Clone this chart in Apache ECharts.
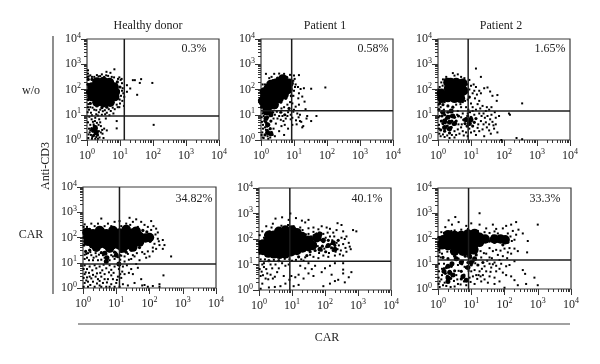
<!DOCTYPE html>
<html><head><meta charset="utf-8">
<style>html,body{margin:0;padding:0;background:#fff}#c{width:600px;height:364px}</style>
<script src="https://cdn.jsdelivr.net/npm/echarts@6/dist/echarts.min.js"></script></head>
<body><div id="c"></div>
<script>
// Event positions as log10 decades [CAR, Anti-CD3]
const panelNames=['Healthy donor','Patient 1','Patient 2'];
const rowNames=['w/o','CAR'];
const percents=['0.3%','0.58%','1.65%','34.82%','40.1%','33.3%'];
const gateCAR=[13.5,8.5,8.2,12.5,8.6,8.3];
const gateCD3=[9,14.5,14,9,13.5,14];
const tickLabels=[1,10,100,1000,10000];

const hdWoDense=[[.3,1.5],[.5,1.48],[.7,1.5],[.15,1.72],[.32,1.72],[.5,1.72],[.68,1.72],[.84,1.72],[.12,1.9],[.3,1.9],[.5,1.9],[.68,1.9],[.86,1.9],[.15,2.1],[.32,2.1],[.5,2.1],[.68,2.1],[.82,2.1],[.3,2.3],[.5,2.32],[.68,2.28]];
const hdWoClump=[[.2,.4],[.28,.3],[.25,.5]];
const hdWoMid=[[.02,1.9],[.03,2.2],[.04,1.6],[.95,1.95],[1.0,2.1],[.93,1.65],[.45,1.28],[.6,1.3],[.3,1.35],[.75,1.4],[.18,.35],[.28,.45],[.25,.25],[.22,.55],[.32,.2],[.14,.45],[.2,.18],[.3,.33],[.04,2.4],[.15,2.4],[.92,2.3],[.1,1.45]];
const hdWoDots=[[1.39,2.37],[1.45,2.37],[1.64,2.41],[1.6,2.26],[1.98,2.26],[1.21,2.17],[1.31,2.04],[1.21,1.91],[1.52,1.79],[1.13,1.71],[2.02,.6],[.59,2.7],[.83,2.8],[.71,2.66],[.3,2.57],[.03,2.76],[.03,2.63],[.05,2.52],[.15,2.5],[.22,2.5],[.4,2.53],[.52,2.5],[.64,2.54],[.82,2.48],[.94,2.42],[1.02,2.38],[1.06,2.25],[1.08,2.05],[1.1,1.85],[1.07,1.55],[1.0,1.45],[1.12,1.35],[.93,1.3],[.84,1.22],[.72,1.15],[.6,1.08],[.48,1.14],[.36,1.1],[.22,1.2],[.1,1.3],[.04,1.42],[.02,1.1],[.12,1.08],[.28,1.02],[.55,1.02],[.07,.92],[.25,.88],[.37,.82],[.57,.85],[.9,.75],[.9,.46],[.03,.7],[.1,.6],[.18,.72],[.3,.68],[.42,.55],[.52,.45],[.6,.38],[.06,.45],[.12,.2],[.15,.05],[.25,.05],[.38,.1],[.47,.25],[.5,.08],[.04,.08],[.08,.3],[.36,.35],[.4,.7],[.17,1.28],[.28,1.18],[.4,1.2],[.54,1.18],[.66,1.22],[.78,1.28],[.9,1.4],[.98,1.3],[.03,1.3],[.06,1.2],[.15,.98],[.33,.97],[.45,1.0],[.68,.98],[.8,1.05],[.14,.82],[.2,.62],[.24,.75],[.35,.6],[.46,.4],[.1,.38],[.16,.12],[.28,.12],[.33,.05],[.42,.3],[.05,.22],[1.05,2.42],[.98,2.48],[.75,2.5],[.58,2.56],[.45,2.6],[.35,2.52],[.1,2.56],[.02,2.5],[1.03,1.75],[1.06,1.95],[.99,1.6]];

const p1WoDense=[[.18,1.15],[.12,1.4],[.28,1.38],[.12,1.65],[.28,1.62],[.44,1.6],[.25,1.85],[.42,1.85],[.58,1.85],[.35,2.05],[.52,2.05],[.68,2.05],[.82,2.0],[.45,2.25],[.62,2.28],[.78,2.25],[.66,2.42],[.1,1.9],[.22,2.05],[.05,1.55],[.3,2.2],[.55,1.65],[.7,1.8],[.85,2.25],[.4,1.4]];
const p1WoClump=[[.2,.3],[.3,.25],[.2,.6],[.15,.85],[.3,1.0]];
const p1WoMid=[[.02,1.3],[.02,1.75],[.05,2.0],[.15,2.0],[.22,2.18],[.36,2.35],[.5,2.45],[.88,2.3],[.92,1.75],[.75,1.65],[.6,1.5],[.45,1.3],[.35,1.1],[.2,.9],[.3,.75],[.18,.55],[.25,.25],[.12,.2],[.6,1.1],[.72,1.0],[.85,1.25],[.78,2.48],[.9,2.1],[.15,.7],[.28,.45]];
const p1WoDots=[[1.15,2.57],[1.02,2.42],[.15,2.62],[.4,2.62],[.55,2.63],[.7,2.62],[.88,2.58],[1.0,2.55],[1.05,2.2],[1.12,2.1],[1.2,2.02],[1.3,2.05],[1.52,2.03],[1.95,2.08],[1.15,1.85],[1.13,1.65],[1.25,1.72],[1.32,1.52],[1.15,1.4],[1.05,1.32],[1.0,1.2],[1.1,1.05],[1.18,1.0],[1.35,1.22],[1.4,.95],[1.38,.85],[1.68,.95],[1.52,.75],[1.22,.72],[1.08,.62],[1.28,.55],[1.18,.75],[1.25,.5],[.95,.6],[.8,.95],[.68,.75],[.62,.55],[.72,.6],[.5,.85],[.45,.65],[.38,.45],[.08,.95],[.03,.72],[.06,.45],[.1,.75],[.05,.1],[.02,.2],[.35,.2],[.42,.15],[.7,.2],[.28,.1],[.08,.08],[.55,.35],[.82,.45],[.9,.82],[.95,1.45],[.98,1.75],[1.0,1.95],[1.03,2.1],[.05,1.05],[.1,1.1],[.02,.9],[.06,.6],[.12,.5],[.2,.4],[.25,.6],[.3,.95],[.38,.85],[.42,1.0],[.48,1.12],[.55,.95],[.6,.8],[.65,.95],[.75,.85],[.82,1.1],[.9,1.0],[.95,.88],[.98,1.12],[.8,1.4],[.88,1.5],[.62,1.25],[.7,1.3],[.2,.15],[.32,.32],[.18,.28],[.15,.4],[.22,.05],[.04,.3],[.98,2.35],[.32,2.5],[.25,2.45],[.12,2.2],[.05,2.2],[1.06,.78],[1.14,.9]];

const p2WoDense=[[.5,1.65],[.32,1.85],[.5,1.85],[.68,1.85],[.32,2.05],[.5,2.05],[.68,2.05],[.38,2.28],[.55,2.28],[.7,2.22],[.12,1.65],[.1,1.85],[.75,2.25],[.78,1.95],[.3,2.28],[.3,1.68],[.68,1.65]];
const p2WoClump=[[.3,.9],[.45,.95],[.2,.75],[.35,.7],[.5,.65],[.2,.5],[.35,.45],[.85,.8],[1.0,.8],[.95,.65],[.4,1.15],[.15,1.1]];
const p2WoMid=[[.05,1.45],[.15,1.4],[.03,1.2],[.3,1.35],[.45,1.3],[.85,1.9],[.95,1.7],[.3,1.1],[.38,.95],[.5,.9],[.42,.75],[.25,.85],[.15,.65],[.28,.55],[.4,.5],[.12,.95],[.62,.95],[.85,.85],[.95,.75],[1.0,.9],[1.1,.7],[1.05,.55],[.82,.65],[.2,.35],[.35,.28],[.08,.4],[.9,.95],[.78,.8],[.2,1.0],[.33,.7],[.47,.62],[.1,.75],[.22,.68],[.55,.75],[1.15,.85],[.88,.55]];
const p2WoDots=[[1.15,2.83],[1.3,2.5],[.45,2.65],[.6,2.6],[.25,2.5],[.15,2.4],[.8,2.45],[.95,2.38],[1.0,2.15],[1.08,2.2],[1.15,2.1],[1.25,1.95],[1.3,1.85],[1.4,2.05],[1.5,2.08],[1.58,1.92],[1.65,1.75],[1.78,1.55],[1.8,1.78],[1.25,1.55],[1.12,1.65],[1.2,1.42],[1.35,1.35],[1.28,1.25],[1.45,1.15],[1.55,1.2],[1.38,1.05],[1.5,.95],[1.62,1.0],[1.72,1.1],[1.75,.88],[1.85,.95],[1.3,.75],[1.45,.7],[1.55,.62],[1.65,.72],[1.48,.5],[1.35,.42],[1.25,.35],[1.55,.38],[1.7,.45],[1.8,.3],[1.6,.25],[1.4,.15],[1.15,.2],[1.0,.3],[.9,.15],[.75,.35],[.7,.5],[.65,.25],[.55,.2],[.5,.1],[.35,.08],[.2,.12],[.08,.15],[2.15,1.05],[2.18,1.0],[2.55,1.45],[2.38,.08],[2.55,.03],[1.92,.0],[.7,1.3],[.85,1.3],[.6,1.15],[1.05,1.15],[1.15,1.2],[.02,.9],[.03,.6],[.75,1.05],[.9,1.05],[.02,1.7],[.02,2.0],[.9,1.6],[.82,1.55],[.75,1.5],[1.0,1.45],[.92,1.2],[.68,1.42],[.55,1.4],[.2,1.5],[.08,1.3],[.18,1.2],[1.25,1.05],[1.32,.95],[1.22,.62],[1.38,.62],[1.42,.88],[1.58,.82],[1.68,.58],[1.75,.62],[1.2,.48],[1.1,.35],[.95,.45],[.85,.3],[.78,.18],[.6,.42],[.62,.62],[.5,.35],[.42,.2],[.28,.18],[.15,.22],[.04,.25],[.03,.45],[.05,.95],[.1,1.1],[.58,1.0],[.7,.9],[.72,.62],[.3,.42],[1.48,1.3],[1.62,1.3],[1.1,1.0],[1.05,1.3],[.97,1.1],[.42,1.15],[.02,1.4],[.14,2.15],[.1,2.28],[.05,2.1],[.22,2.4],[.5,2.55],[.7,2.5],[.88,2.2],[.95,2.0],[1.05,1.85],[1.18,1.8],[1.1,1.95]];

const hdCarDense=[[.15,1.85],[.15,2.05],[.3,1.75],[.3,1.95],[.3,2.15],[.5,1.75],[.5,1.95],[.5,2.15],[.7,1.72],[.7,1.95],[.7,2.15],[.9,1.72],[.9,1.95],[.9,2.15],[1.1,1.7],[1.1,1.95],[1.1,2.18],[1.3,1.7],[1.3,1.95],[1.3,2.2],[1.5,1.75],[1.5,1.95],[1.5,2.18],[1.7,1.82],[1.7,2.05],[1.88,1.98],[.5,2.28],[.9,2.28],[1.3,2.32],[1.6,2.25],[1.5,1.62],[1.2,1.58],[.8,1.58],[.4,1.62],[2.0,2.0],[.12,2.2]];
const hdCarClump=[[.7,1.05],[.72,1.2],[1.08,.95],[.65,1.38],[1.0,1.3]];
const hdCarMid=[[.03,1.7],[.03,2.0],[.04,2.3],[.2,2.32],[.6,2.32],[.95,2.33],[2.0,2.1],[2.02,1.85],[.2,1.5],[.4,1.5],[.8,1.48],[1.15,1.45],[1.45,1.5],[1.7,1.6],[.7,1.05],[.72,1.2],[1.08,.95],[1.3,2.38],[1.55,2.35],[1.8,2.28],[1.92,2.22],[.08,1.45],[.55,1.4],[.95,1.42],[1.3,1.42]];
const hdCarDots=[[2.65,1.25],[2.42,.5],[2.3,.15],[2.1,.08],[2.4,1.9],[2.45,1.7],[2.4,1.55],[2.3,1.7],[2.2,1.55],[2.1,1.45],[2.2,2.35],[2.12,2.45],[2.05,2.65],[2.25,2.2],[1.85,2.5],[1.75,2.62],[1.6,2.72],[1.5,2.62],[1.4,2.78],[1.3,2.55],[1.1,2.65],[.95,2.62],[.55,2.75],[.45,2.55],[.25,2.55],[.05,2.52],[.75,2.55],[1.95,1.45],[1.85,1.35],[2.0,1.25],[1.7,1.1],[1.9,1.2],[1.6,.95],[1.65,.8],[1.55,1.25],[1.45,1.15],[1.35,1.35],[1.25,1.25],[1.12,1.3],[1.0,1.4],[.85,1.3],[.6,1.3],[.4,1.25],[.25,1.3],[.1,1.35],[.05,1.15],[.18,1.1],[.45,1.1],[.05,.9],[.2,.85],[.35,.9],[.5,.85],[.62,.92],[.8,.9],[1.2,.85],[1.32,.9],[1.45,.75],[1.5,.55],[1.38,.6],[1.25,.55],[1.15,.4],[1.05,.45],[.85,.5],[.75,.35],[.55,.45],[.45,.35],[.2,.45],[.05,.55],[.1,.3],[.3,.25],[.6,.2],[.85,.15],[1.0,.2],[1.2,.15],[1.35,.1],[1.75,.35],[1.85,.12],[1.95,.05],[1.78,.1],[.02,.05],[.15,.05],[.35,.05],[.5,.1],[.7,.05],[.95,.05],[1.1,.05],[1.55,.2],[2.3,.05],[.12,.75],[.28,.7],[.4,.78],[.58,.7],[.7,.78],[.85,.72],[.95,.85],[1.08,.75],[1.18,.65],[.08,.62],[.18,.6],[.3,.52],[.42,.58],[.52,.6],[.65,.55],[.78,.62],[.92,.6],[1.12,.55],[.12,.42],[.25,.38],[.38,.45],[.5,.28],[.65,.35],[.72,.22],[.9,.35],[1.02,.32],[.15,.25],[.22,.12],[.42,.18],[.55,.05],[.8,.05],[.05,.2],[.02,.4],[.02,.75],[.3,1.1],[.55,1.12],[.65,1.2],[.8,1.1],[.95,1.15],[1.12,1.12],[1.25,1.05],[1.38,1.12],[1.5,1.3],[1.62,1.38],[1.78,1.42],[1.15,1.28],[.9,1.25],[.7,1.35],[.48,1.32],[.32,1.2],[.12,1.2],[.05,1.32],[.15,1.38],[.22,1.42],[.38,1.38],[1.05,1.22],[2.15,1.75],[2.25,1.95],[2.05,2.3],[2.18,2.12],[2.1,1.6],[2.28,1.85],[1.95,2.42],[1.65,2.42],[1.42,2.5],[1.15,2.45],[.85,2.45],[.65,2.45],[.35,2.45],[.12,2.42],[.02,2.42]];

const p1CarDense=[[.12,1.55],[.12,1.8],[.28,1.45],[.28,1.7],[.28,1.95],[.45,1.42],[.45,1.68],[.45,1.92],[.45,2.15],[.62,1.4],[.62,1.65],[.62,1.9],[.62,2.15],[.8,1.42],[.8,1.68],[.8,1.92],[.8,2.2],[.98,1.5],[.98,1.75],[.98,2.0],[.98,2.25],[1.15,1.55],[1.15,1.8],[1.15,2.05],[1.32,1.65],[1.32,1.9],[1.5,1.7],[.6,2.3],[.8,2.35],[1.0,2.35],[1.15,2.25],[.3,2.15],[1.3,2.1],[1.5,1.95],[1.62,1.75],[1.75,2.05]];
const p1CarClump=[[1.7,2.1],[1.85,2.2],[1.95,1.95],[2.1,1.75],[2.25,1.85],[2.3,1.6],[1.85,1.6]];
const p1CarMid=[[.03,1.65],[.03,1.9],[.2,2.15],[.32,2.28],[.55,2.38],[1.12,2.28],[1.6,2.0],[1.7,1.8],[1.75,2.2],[1.85,2.1],[1.85,1.6],[1.95,1.9],[2.05,1.7],[2.1,1.95],[2.2,1.65],[2.3,1.75],[2.25,1.55],[2.4,1.95],[1.45,1.35],[1.2,1.3],[.3,1.15],[.6,1.15],[1.7,1.55],[1.55,1.5],[1.92,1.72],[2.02,1.5]];
const p1CarDots=[[2.95,2.3],[2.85,2.35],[2.72,1.85],[2.75,1.7],[2.78,1.6],[2.65,2.1],[2.6,2.0],[2.55,2.3],[2.5,2.55],[2.38,2.62],[2.35,2.35],[2.25,2.25],[2.15,2.4],[2.05,2.45],[1.9,2.5],[1.8,2.38],[1.65,2.45],[1.5,2.42],[1.4,2.65],[1.5,2.75],[1.3,2.72],[1.12,2.82],[.95,3.0],[.9,2.75],[.7,2.85],[.5,2.8],[.42,2.6],[.22,2.5],[.1,2.3],[.02,2.15],[2.45,1.4],[2.55,1.35],[2.3,1.35],[2.1,1.3],[1.95,1.35],[1.8,1.25],[1.65,1.3],[2.55,1.05],[2.55,.8],[2.55,.65],[2.8,.7],[2.72,.5],[2.15,.95],[2.0,.85],[2.2,.6],[1.9,.7],[2.4,.4],[2.3,.35],[2.15,.25],[1.95,.15],[1.7,.95],[1.65,.55],[1.5,.65],[1.4,.85],[1.2,.6],[1.1,.5],[1.35,.45],[1.05,.15],[1.2,.2],[.98,.55],[.8,.95],[.75,.55],[.55,.7],[.4,.85],[.25,.65],[.15,.9],[.05,.55],[.1,.25],[.3,.1],[.65,.15],[.8,.25],[.9,1.0],[.42,.45],[.2,.45],[.35,1.0],[.5,1.0],[.15,1.05],[.05,1.2],[.7,1.05],[1.0,1.15],[.92,.4],[2.6,.3],[2.3,1.05],[1.35,1.15],[1.5,1.05],[1.5,2.2],[1.58,2.1],[1.65,2.28],[1.72,2.05],[1.82,2.25],[1.88,1.95],[1.95,2.2],[2.02,2.05],[2.08,2.25],[2.15,2.1],[2.22,1.95],[2.28,2.1],[2.35,1.85],[2.42,1.75],[2.48,1.55],[2.5,2.05],[2.55,1.8],[2.62,1.65],[2.65,1.5],[1.58,1.85],[1.65,1.65],[1.78,1.72],[1.82,1.45],[1.9,1.55],[1.98,1.62],[2.12,1.45],[2.18,1.8],[2.32,1.5],[2.38,1.6],[1.42,2.18],[1.32,2.35],[1.25,2.45],[1.05,2.5],[.88,2.55],[.68,2.52],[.38,2.45],[.15,2.05],[1.55,1.38],[1.4,1.28],[1.28,1.2],[1.12,1.18],[.92,1.2],[.78,1.22],[.45,1.18],[.18,1.2],[.02,1.42],[.08,.72],[.12,.58],[.22,.82],[.28,.42],[.35,.6],[.48,.52],[.1,1.0],[.02,.82],[.6,.85],[.05,.05],[.48,.12],[1.6,.82],[1.25,.95]];

const p2CarDense=[[.12,1.75],[.3,1.72],[.3,1.95],[.5,1.7],[.5,1.92],[.5,2.12],[.7,1.7],[.7,1.92],[.7,2.12],[.9,1.72],[.9,1.95],[.9,2.18],[1.08,1.75],[1.08,1.98],[1.25,1.85],[1.25,2.05],[1.42,1.98],[.3,2.15],[.15,1.95],[1.1,2.2],[.5,1.5],[.75,1.5],[.9,1.5],[1.7,1.98],[1.88,1.98],[2.02,1.95],[1.08,1.55]];
const p2CarClump=[[.35,.65],[.3,.45],[.45,.55],[.3,.9],[.42,1.0],[.75,.5],[.85,.35],[.9,.85],[1.0,1.05],[.95,1.3],[.55,1.2],[.3,.3],[.18,.7],[1.1,1.2],[.7,1.05]];
const p2CarMid=[[.03,1.55],[.03,1.85],[.03,2.05],[.15,2.05],[.3,2.22],[1.05,2.25],[1.55,1.9],[1.7,1.85],[1.65,2.1],[1.85,1.95],[1.95,1.75],[1.95,2.05],[2.1,1.85],[.92,1.45],[.98,1.25],[.9,1.05],[.85,.85],[1.05,1.1],[.35,.7],[.28,.5],[.42,.55],[.3,.35],[.25,.85],[.4,.9],[.5,1.3],[.7,.4],[.7,.7],[1.15,1.35],[1.2,.95],[1.35,1.05],[.15,1.25],[.3,1.2],[.38,.42],[.22,.62],[.5,.72],[.78,.55],[.82,1.3],[1.0,.95]];
const p2CarDots=[[3.0,2.55],[2.7,1.9],[2.68,1.45],[2.55,2.2],[2.42,2.35],[2.35,2.15],[2.25,2.3],[2.2,2.55],[2.35,2.65],[2.05,2.5],[2.1,2.2],[1.95,2.4],[1.75,2.38],[1.65,2.55],[1.45,2.4],[1.25,2.55],[1.25,3.0],[1.0,2.6],[.85,2.5],[.62,2.65],[.52,2.85],[.42,2.55],[.32,2.72],[.22,2.45],[.1,2.25],[2.4,1.5],[2.3,1.6],[2.2,1.4],[2.1,1.45],[1.95,1.3],[1.8,1.35],[1.65,1.5],[1.55,1.25],[1.45,1.4],[1.7,1.05],[1.85,1.15],[2.3,1.1],[2.15,.95],[2.05,.9],[1.95,.65],[1.85,.8],[1.75,.7],[1.6,.85],[1.45,.7],[1.35,.55],[1.55,.5],[1.7,.45],[1.85,.3],[2.05,.55],[2.2,.5],[2.3,.35],[2.55,.75],[2.62,.6],[2.9,.45],[3.0,.15],[2.65,.2],[2.4,.15],[2.0,.05],[1.7,.2],[1.5,.25],[1.3,.3],[1.15,.55],[1.1,.2],[.95,.45],[.85,.15],[.6,.2],[.55,.55],[.6,.95],[.75,1.1],[.5,.1],[.38,.08],[.15,.15],[.05,.3],[.12,.55],[.03,.7],[.12,.8],[.03,1.0],[.18,1.0],[.08,1.25],[1.3,1.25],[1.1,.75],[1.25,.7],[1.4,.9],[1.55,1.0],[1.0,.7],[.05,.08],[1.05,.5],[.92,.72],[.98,.28],[1.18,.4],[1.28,.5],[1.4,.38],[1.58,.68],[1.65,.98],[1.48,1.12],[1.32,.8],[1.22,.55],[1.12,1.02],[1.38,1.42],[1.28,1.5],[1.12,1.52],[1.05,1.42],[.78,1.4],[.68,1.38],[.55,1.48],[.42,1.42],[.28,1.48],[.12,1.4],[.05,1.45],[.62,1.2],[.72,.98],[.8,.88],[.62,.72],[.18,.82],[.1,.38],[.2,.25],[.48,.32],[.58,.38],[.68,.18],[.78,.3],[.25,.12],[1.55,1.62],[1.75,1.55],[1.88,1.52],[2.0,1.6],[2.15,1.62],[2.22,1.9],[2.3,1.95],[2.18,2.08],[1.8,2.2],[1.7,2.28],[1.55,2.22],[1.4,2.25],[1.2,2.3],[.9,2.38],[.7,2.35],[.5,2.32],[.4,2.3],[.18,2.22],[.02,1.3],[1.75,.92],[1.9,1.0],[2.08,1.22],[1.62,1.22],[.02,.45],[.02,.2]];

const panelData=[
  {dense:hdWoDense,clump:hdWoClump,mid:hdWoMid,dots:hdWoDots},{dense:p1WoDense,clump:p1WoClump,mid:p1WoMid,dots:p1WoDots},{dense:p2WoDense,clump:p2WoClump,mid:p2WoMid,dots:p2WoDots},
  {dense:hdCarDense,clump:hdCarClump,mid:hdCarMid,dots:hdCarDots},{dense:p1CarDense,clump:p1CarClump,mid:p1CarMid,dots:p1CarDots},{dense:p2CarDense,clump:p2CarClump,mid:p2CarMid,dots:p2CarDots}];
const frames=[[87,39,132,101],[261,39,132,101],[438,39,132,101],[83,187,133,101],[259,188,132,102],[438,188,133,101]];

const minorVals=[];
[1,10,100,1000].forEach(d=>{for(let k=2;k<10;k++)minorVals.push(d*k);});
const ink='#1c1c1c', font='"Liberation Serif",serif';
const lab=v=>'{b|10}{s|'+Math.round(Math.log10(v))+'}';
const rich={b:{fontFamily:font,fontSize:12,color:'#222'},s:{fontFamily:font,fontSize:8,color:'#222',verticalAlign:'bottom',padding:[0,0,7,0]}};
const toVal=a=>a.map(p=>[Math.pow(10,p[0]),Math.pow(10,p[1])]);

const grid=[],xAxis=[],yAxis=[],series=[];
frames.forEach((f,i)=>{
  grid.push({left:f[0],top:f[1],width:f[2],height:f[3],show:true,borderColor:'#3a3a3a',borderWidth:1.2,backgroundColor:'transparent'});
  const ax=(isX,major)=>({type:'log',logBase:10,gridIndex:i,min:1,max:10000,position:isX?'bottom':'left',
    axisLine:{show:false},splitLine:{show:false},minorTick:{show:false},
    axisTick:{show:true,inside:false,length:major?6:3,lineStyle:{color:'#333',width:1},customValues:major?tickLabels:minorVals},
    axisLabel:major?{show:true,customValues:tickLabels,formatter:lab,rich:rich,margin:isX?8:6,color:'#222',fontFamily:font,fontSize:12}:{show:false}});
  xAxis.push(ax(true,true));xAxis.push(ax(true,false));
  yAxis.push(ax(false,true));yAxis.push(ax(false,false));
  const xi=i*2,yi=i*2;
  const base={type:'scatter',xAxisIndex:xi,yAxisIndex:yi,silent:true,animation:false,itemStyle:{color:'#000',opacity:1}};
  series.push(Object.assign({},base,{symbol:'circle',symbolSize:9.5,data:toVal(panelData[i].dense)}));
  series.push(Object.assign({},base,{symbol:'circle',symbolSize:5,data:toVal(panelData[i].clump)}));
  series.push(Object.assign({},base,{symbol:'circle',symbolSize:3.2,data:toVal(panelData[i].mid)}));
  series.push(Object.assign({},base,{symbol:'rect',symbolSize:2,data:toVal(panelData[i].dots)}));
  series.push(Object.assign({},base,{type:'scatter',xAxisIndex:xi+1,yAxisIndex:yi+1,symbolSize:0,data:[[1,1]]}));
  const gl={type:'line',xAxisIndex:xi,yAxisIndex:yi,silent:true,animation:false,symbol:'none',z:5,lineStyle:{color:ink,width:1.5}};
  series.push(Object.assign({},gl,{data:[[gateCAR[i],1],[gateCAR[i],10000]]}));
  series.push(Object.assign({},gl,{data:[[1,gateCD3[i]],[10000,gateCD3[i]]]}));
});
const txt=(x,y,t,rot)=>({type:'text',x:x,y:y,rotation:rot||0,style:{text:t,fill:'#222',font:'12px "Liberation Serif"',textAlign:'center',textVerticalAlign:'middle'}});
const centres=[[194,49],[373,49],[550,49],[194,199],[367,199],[545,199]];
const graphic=[
  txt(148,26,panelNames[0]),txt(325,26,panelNames[1]),txt(501,26,panelNames[2]),
  txt(31,91,rowNames[0]),txt(31,235,rowNames[1]),
  txt(46,166,'Anti-CD3',Math.PI/2),txt(327,338,'CAR'),
  ...percents.map((p,i)=>txt(centres[i][0],centres[i][1],p)),
  {type:'line',shape:{x1:53,y1:36,x2:53,y2:294},style:{stroke:'#444',lineWidth:1.2}},
  {type:'line',shape:{x1:78,y1:324,x2:570,y2:324},style:{stroke:'#444',lineWidth:1.2}}
];
const chart=echarts.init(document.getElementById('c'),null,{renderer:'canvas'});
chart.setOption({animation:false,backgroundColor:'#fff',grid,xAxis,yAxis,series,graphic});
</script></body></html>
